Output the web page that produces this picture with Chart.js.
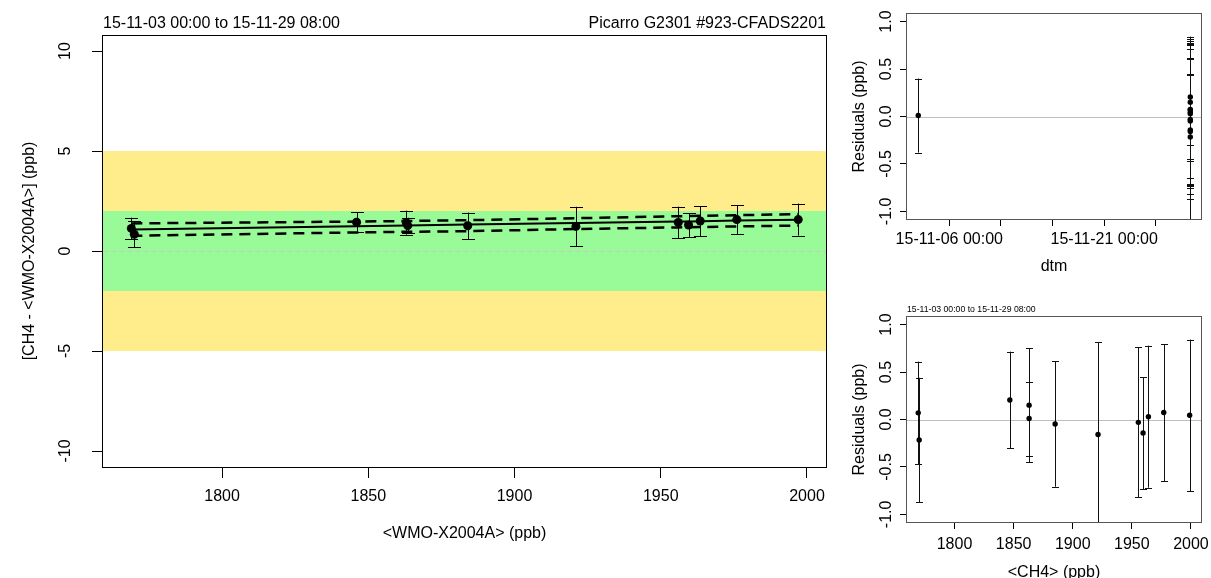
<!DOCTYPE html>
<html><head><meta charset="utf-8">
<script src="https://cdn.jsdelivr.net/npm/chart.js@4.4.0/dist/chart.umd.min.js"></script>
<style>
html,body{margin:0;padding:0;background:#fff;width:1211px;height:578px;overflow:hidden;}
canvas{position:absolute;}
#c1{left:0;top:0;width:840px;height:578px;}
#c2{left:840px;top:0;width:371px;height:295px;}
#c3{left:840px;top:295px;width:371px;height:283px;}
</style></head><body>
<canvas id="c1" width="840" height="578"></canvas>
<canvas id="c2" width="371" height="295"></canvas>
<canvas id="c3" width="371" height="283"></canvas>
<script>
// ---------- data ----------
const wmoValues  = [1769, 1770, 1846, 1863, 1863.5, 1884, 1921, 1956, 1959.5, 1963.5, 1976, 1997];
const diffValues = [1.13, 0.84, 1.44, 1.42, 1.27, 1.26, 1.23, 1.43, 1.30, 1.50, 1.57, 1.57];
const diffErrors = [0.54, 0.655, 0.51, 0.60, 0.39, 0.66, 0.98, 0.79, 0.59, 0.75, 0.72, 0.80];

const fitX     = [1769, 1846, 1863, 1884, 1921, 1956, 1960, 1964, 1976, 1997];
const fitY     = [1.07, 1.24, 1.27, 1.32, 1.40, 1.47, 1.48, 1.49, 1.52, 1.56];
const fitUpper = [1.38, 1.47, 1.50, 1.54, 1.64, 1.74, 1.75, 1.76, 1.79, 1.84];
const fitLower = [0.76, 0.93, 0.96, 0.99, 1.10, 1.18, 1.19, 1.20, 1.23, 1.27];

const ch4Values   = [1769.3, 1770.1, 1846.8, 1863.1, 1863.1, 1885.1, 1921.4, 1955.5, 1959.5, 1964.0, 1977.0, 1998.9];
const residValues = [0.07, -0.215, 0.205, 0.151, 0.01, -0.048, -0.158, -0.03, -0.143, 0.03, 0.074, 0.044];
const residErrors = [0.54, 0.655, 0.51, 0.60, 0.39, 0.66, 0.975, 0.79, 0.59, 0.748, 0.722, 0.798];
// measurement time, days relative to 15-11-06 00:00 (15-11-03 00:00 = -3, 15-11-29 08:00 = 23.333)
const dtmDays = [23.333, 23.333, 23.333, 23.333, -3, 23.333, 23.333, 23.333, 23.333, 23.333, 23.333, 23.333];

const bandOuter = [-5, 5];
const bandInner = [-2, 2];

const mainXTicks = [1800, 1850, 1900, 1950, 2000];
const mainXLabels = ['1800', '1850', '1900', '1950', '2000'];
const mainYTicks = [-10, -5, 0, 5, 10];
const mainYLabels = ['-10', '-5', '0', '5', '10'];
const residYTicks = [-1, -0.5, 0, 0.5, 1];
const residYLabels = ['-1.0', '-0.5', '0.0', '0.5', '1.0'];
const dtmTicks = [0, 5, 10, 15, 20];
const dtmLabels = ['15-11-06 00:00', '', '', '15-11-21 00:00', ''];
const ch4Ticks = [1800, 1850, 1900, 1950, 2000];
const ch4Labels = ['1800', '1850', '1900', '1950', '2000'];

const periodText = '15-11-03 00:00 to 15-11-29 08:00';
const instrumentText = 'Picarro G2301 #923-CFADS2201';

// ---------- helpers ----------
const FF = "'Liberation Sans', Arial, sans-serif";
const F16 = '16px ' + FF;

function drawText(ctx, t) {
  ctx.save();
  ctx.font = t.font || F16;
  ctx.fillStyle = t.color || '#000';
  ctx.textAlign = t.align || 'center';
  ctx.textBaseline = t.baseline || 'alphabetic';
  ctx.translate(t.x, t.y);
  if (t.rotate) ctx.rotate(t.rotate);
  ctx.fillText(t.text, 0, 0);
  ctx.restore();
}

const decor = {
  id: 'decor',
  beforeDatasetsDraw(chart, args, o) {
    const {ctx, chartArea: a, scales: {x, y}} = chart;
    ctx.save();
    (o.bands || []).forEach(b => {
      const y1 = y.getPixelForValue(b.from), y2 = y.getPixelForValue(b.to);
      ctx.fillStyle = b.color;
      ctx.fillRect(a.left, Math.min(y1, y2), a.right - a.left, Math.abs(y2 - y1));
    });
    if (o.zeroLine) {
      const py = Math.round(y.getPixelForValue(0)) + 0.5;
      ctx.strokeStyle = o.zeroLine.color;
      ctx.lineWidth = o.zeroLine.width;
      ctx.setLineDash(o.zeroLine.dash || []);
      ctx.beginPath(); ctx.moveTo(a.left, py); ctx.lineTo(a.right, py); ctx.stroke();
    }
    ctx.restore();
  },
  beforeDatasetDraw(chart, args, o) {
    const ds = chart.data.datasets[args.index];
    if (!ds.errors) return;
    const {ctx, chartArea: a, scales: {x, y}} = chart;
    ctx.save();
    ctx.beginPath(); ctx.rect(a.left, a.top, a.right - a.left, a.bottom - a.top); ctx.clip();
    ctx.strokeStyle = o.errColor || '#000';
    ctx.lineWidth = 1;
    const cw = o.capHalf || 4;
    ds.data.forEach((p, i) => {
      const e = ds.errors[i];
      const px = Math.round(x.getPixelForValue(p.x)) + 0.5;
      const yt = y.getPixelForValue(p.y + e), yb = y.getPixelForValue(p.y - e);
      ctx.beginPath();
      ctx.moveTo(px, yt); ctx.lineTo(px, yb);
      ctx.moveTo(px - cw, Math.round(yt) + 0.5); ctx.lineTo(px + cw, Math.round(yt) + 0.5);
      ctx.moveTo(px - cw, Math.round(yb) + 0.5); ctx.lineTo(px + cw, Math.round(yb) + 0.5);
      ctx.stroke();
    });
    ctx.restore();
  },
  afterDraw(chart, args, o) {
    const {ctx, chartArea: a, scales: {x, y}} = chart;
    ctx.save();
    ctx.strokeStyle = o.frameColor || '#000';
    ctx.lineWidth = 1;
    ctx.strokeRect(a.left - 0.5, a.top - 0.5, a.right - a.left + 1, a.bottom - a.top + 1);
    ctx.restore();
    o.xTicks.forEach((v, i) => {
      if (!o.xLabels[i]) return;
      drawText(ctx, {text: o.xLabels[i], x: x.getPixelForValue(v), y: o.xLabelBaseline, font: o.font});
    });
    o.yTicks.forEach((v, i) => {
      drawText(ctx, {text: o.yLabels[i], x: o.yLabelCenter, y: y.getPixelForValue(v), font: o.font,
        rotate: -Math.PI / 2, baseline: 'middle'});
    });
    (o.texts || []).forEach(t => drawText(ctx, t));
  }
};

function axis(min, max, ticks, tickLen, size, isX) {
  return {
    type: 'linear', min, max,
    afterBuildTicks: s => { s.ticks = ticks.map(v => ({value: v})); },
    afterFit: s => { if (isX) s.height = size; else s.width = size; },
    grid: {display: true, drawOnChartArea: false, drawTicks: true, tickLength: tickLen, color: '#000', lineWidth: 1},
    border: {display: false},
    ticks: {display: false}
  };
}

function pts(xs, ys) { return xs.map((v, i) => ({x: v, y: ys[i]})); }

const common = {
  responsive: false, animation: false, events: [],
  plugins: {legend: {display: false}, tooltip: {enabled: false}}
};

// ---------- main chart ----------
new Chart(document.getElementById('c1'), {
  type: 'scatter',
  data: {datasets: [
    {data: pts(wmoValues, diffValues), errors: diffErrors, pointRadius: 4.5, pointBackgroundColor: '#000', pointBorderWidth: 0, showLine: false},
    {data: pts(fitX, fitY), showLine: true, borderColor: '#000', borderWidth: 2, pointRadius: 0, tension: 0},
    {data: pts(fitX, fitUpper), showLine: true, borderColor: '#000', borderWidth: 2.5, borderDash: [11, 7], pointRadius: 0, tension: 0},
    {data: pts(fitX, fitLower), showLine: true, borderColor: '#000', borderWidth: 2.5, borderDash: [11, 7], pointRadius: 0, tension: 0}
  ]},
  options: Object.assign({}, common, {
    layout: {padding: {left: 0, top: 36, right: 14, bottom: 0}},
    scales: {
      x: axis(1759.3, 2006.5, mainXTicks, 11, 111, true),
      y: axis(-10.8, 10.75, mainYTicks, 11, 103, false)
    },
    plugins: Object.assign({}, common.plugins, {decor: {
      bands: [
        {from: bandOuter[0], to: bandOuter[1], color: '#FFEC8B'},
        {from: bandInner[0], to: bandInner[1], color: '#98FB98'}
      ],
      zeroLine: {color: '#C8C8C8', width: 1, dash: [5, 3]},
      errColor: '#000', capHalf: 6.5, frameColor: '#000', font: F16,
      xTicks: mainXTicks, xLabels: mainXLabels, xLabelBaseline: 501,
      yTicks: mainYTicks, yLabels: mainYLabels, yLabelCenter: 66,
      texts: [
        {text: periodText, x: 103, y: 28, align: 'left'},
        {text: instrumentText, x: 826, y: 28, align: 'right'},
        {text: '[CH4 - <WMO-X2004A>] (ppb)', x: 30, y: 251, rotate: -Math.PI / 2, baseline: 'middle'},
        {text: '<WMO-X2004A> (ppb)', x: 464.5, y: 538}
      ]
    }})
  }),
  plugins: [decor]
});

// ---------- residuals vs time ----------
new Chart(document.getElementById('c2'), {
  type: 'scatter',
  data: {datasets: [
    {data: pts(dtmDays, residValues), errors: residErrors, pointRadius: 2.7, pointBackgroundColor: '#000', pointBorderWidth: 0, showLine: false}
  ]},
  options: Object.assign({}, common, {
    layout: {padding: {left: 0, top: 14, right: 10, bottom: 0}},
    scales: {
      x: axis(-4.09, 24.37, dtmTicks, 7, 76, true),
      y: axis(-1.08, 1.08, residYTicks, 7, 67, false)
    },
    plugins: Object.assign({}, common.plugins, {decor: {
      zeroLine: {color: '#BEBEBE', width: 1.2},
      errColor: '#111', capHalf: 3.5, frameColor: '#555', font: F16,
      xTicks: dtmTicks, xLabels: dtmLabels, xLabelBaseline: 244,
      yTicks: residYTicks, yLabels: residYLabels, yLabelCenter: 47,
      texts: [
        {text: 'Residuals (ppb)', x: 20, y: 116.5, rotate: -Math.PI / 2, baseline: 'middle'},
        {text: 'dtm', x: 214, y: 271}
      ]
    }})
  }),
  plugins: [decor]
});

// ---------- residuals vs CH4 ----------
new Chart(document.getElementById('c3'), {
  type: 'scatter',
  data: {datasets: [
    {data: pts(ch4Values, residValues), errors: residErrors, pointRadius: 2.7, pointBackgroundColor: '#000', pointBorderWidth: 0, showLine: false}
  ]},
  options: Object.assign({}, common, {
    layout: {padding: {left: 0, top: 22, right: 10, bottom: 0}},
    scales: {
      x: axis(1759.8, 2008.5, ch4Ticks, 7, 56, true),
      y: axis(-1.08, 1.08, residYTicks, 7, 67, false)
    },
    plugins: Object.assign({}, common.plugins, {decor: {
      zeroLine: {color: '#BEBEBE', width: 1.2},
      errColor: '#111', capHalf: 3.5, frameColor: '#555', font: F16,
      xTicks: ch4Ticks, xLabels: ch4Labels, xLabelBaseline: 254,
      yTicks: residYTicks, yLabels: residYLabels, yLabelCenter: 47,
      texts: [
        {text: periodText, x: 67, y: 16.5, align: 'left', font: '8.7px ' + FF},
        {text: 'Residuals (ppb)', x: 20, y: 124.5, rotate: -Math.PI / 2, baseline: 'middle'},
        {text: '<CH4> (ppb)', x: 214, y: 282}
      ]
    }})
  }),
  plugins: [decor]
});
</script>
</body></html>
